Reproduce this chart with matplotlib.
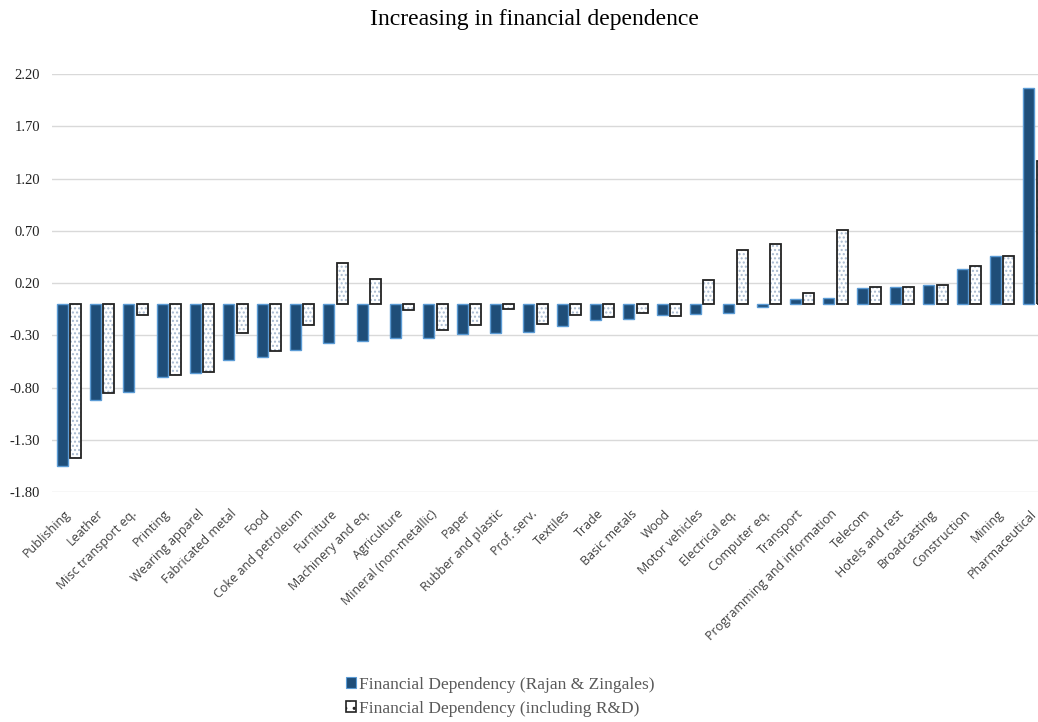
import numpy as np
import matplotlib
matplotlib.use("Agg")
import matplotlib.pyplot as plt
import matplotlib.transforms as mtransforms
from matplotlib.patches import Patch

# 数据
industries = ["Publishing", "Leather", "Misc transport eq.", "Printing", "Wearing apparel",
              "Fabricated metal", "Food", "Coke and petroleum", "Furniture", "Machinery and eq.",
              "Agriculture", "Mineral (non-metallic)", "Paper", "Rubber and plastic", "Prof. serv.",
              "Textiles", "Trade", "Basic metals", "Wood", "Motor vehicles", "Electrical eq.",
              "Computer eq.", "Transport", "Programming and information", "Telecom",
              "Hotels and rest", "Broadcasting", "Construction", "Mining", "Pharmaceutical"]
rajan_zingales = [-1.55, -0.92, -0.845, -0.695, -0.66, -0.535, -0.51, -0.445, -0.37, -0.355,
                  -0.33, -0.33, -0.29, -0.275, -0.27, -0.215, -0.155, -0.14, -0.11, -0.10,
                  -0.09, -0.03, 0.05, 0.06, 0.15, 0.165, 0.185, 0.33, 0.455, 2.065]
with_rd = [-1.47, -0.855, -0.105, -0.68, -0.655, -0.28, -0.45, -0.20, 0.39, 0.235,
           -0.06, -0.245, -0.20, -0.045, -0.19, -0.11, -0.13, -0.085, -0.115, 0.23,
           0.52, 0.575, 0.10, 0.71, 0.165, 0.165, 0.185, 0.365, 0.455, 1.365]
yticks = [-1.80, -1.30, -0.80, -0.30, 0.20, 0.70, 1.20, 1.70, 2.20]

dark_blue = "#1F4E79"
light_blue = "#5B9BD5"

fig = plt.figure(figsize=(10.38, 7.22), dpi=100)
ax = fig.add_axes([52 / 1038, 1 - 492 / 722, 1000 / 1038, (492 - 74) / 722])

x = np.arange(len(industries))
w = 0.33
off = 0.2

ax.bar(x - off, rajan_zingales, width=w, color=dark_blue, edgecolor=light_blue,
       linewidth=1.0, zorder=3)
# 点状填充 + 黑色边框
ax.bar(x + off, with_rd, width=w, color="white", edgecolor="#A8BAD0", hatch="....",
       linewidth=0, zorder=3)
ax.bar(x + off, with_rd, width=w, fill=False, edgecolor="#222222", linewidth=1.3, zorder=4)

ax.set_ylim(-1.80, 2.20)
ax.set_xlim(-0.5, len(industries) - 0.5)
ax.set_yticks(yticks)
ax.set_yticklabels([f"{v:.2f}" for v in yticks], fontfamily="Liberation Serif",
                   fontsize=10.5, color="#222222")
ax.yaxis.grid(True, color="#D9D9D9", linewidth=1.0, zorder=0)
ax.set_axisbelow(True)
ax.tick_params(axis="y", length=0, pad=8.5)
ax.tick_params(axis="x", length=0, pad=11)
for s in ax.spines.values():
    s.set_visible(False)

ax.set_xticks(x)
ax.set_xticklabels(industries, rotation=45, ha="right", rotation_mode="anchor",
                   fontfamily="Open Sans", fontsize=9, color="#404040")
shift = mtransforms.ScaledTranslation(-5 / 100, 0, fig.dpi_scale_trans)
for lbl in ax.get_xticklabels():
    lbl.set_transform(lbl.get_transform() + shift)

fig.text(0.515, 1 - 20 / 722, "Increasing in financial dependence", ha="center", va="center",
         fontfamily="Liberation Serif", fontsize=17, color="black")

handles = [Patch(facecolor=dark_blue, edgecolor=light_blue, linewidth=0.8),
           Patch(facecolor="white", edgecolor="#222222", hatch="..", linewidth=1.2)]
leg = fig.legend(handles, ["Financial Dependency (Rajan & Zingales)",
                           "Financial Dependency (including R&D)"],
                 loc="center", bbox_to_anchor=(0.482, 0.035), frameon=False,
                 prop={"family": "Liberation Serif", "size": 12.5},
                 handlelength=0.55, handleheight=0.55, handletextpad=0.15, labelspacing=0.45)
for t in leg.get_texts():
    t.set_color("#595959")

fig.savefig("out.png", dpi=100)
